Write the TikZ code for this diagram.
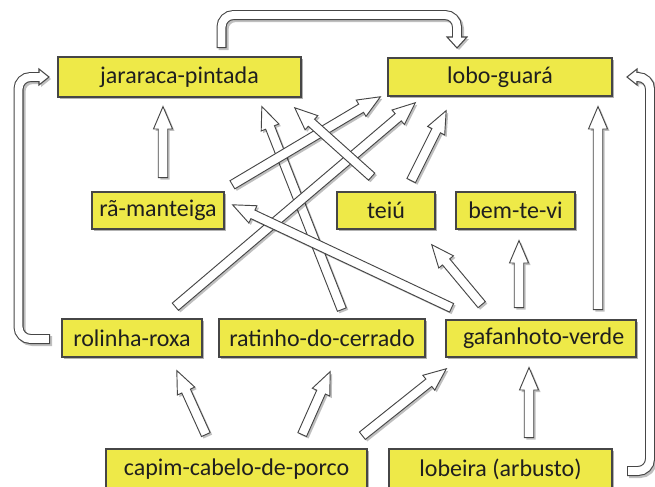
\documentclass[tikz,border=0pt]{standalone}
\usepackage{fontspec}
\setmainfont{Carlito}
\usetikzlibrary{calc,shapes.arrows,shadows}
\definecolor{boxfill}{RGB}{238,233,72}
\definecolor{edge}{RGB}{70,70,70}
\tikzset{
  box/.style={draw=edge, line width=0.8pt, fill=boxfill, inner sep=0pt,
    font=\fontsize{18pt}{20pt}\selectfont, text=black!88,
    drop shadow={shadow xshift=1.8pt, shadow yshift=-1.8pt, fill=black, opacity=0.3}},
  bw/.style={minimum width=#1*0.75pt},
  bh/.style={minimum height=#1*0.75pt},
  sarrow/.style={single arrow, draw=edge, line width=0.7pt, fill=white,
    inner xsep=0pt, inner ysep=3.2pt, single arrow head extend=3.6pt,
    single arrow tip angle=46, single arrow head indent=0pt, minimum width=0pt},
  sarrowshadow/.style={sarrow, draw=none, fill=black, opacity=0.25},
  cborder/.style={line width=7.5pt, draw=edge, rounded corners=9pt},
  cinner/.style={line width=5.9pt, draw=white, rounded corners=9pt},
  chead/.style={fill=white, draw=edge, line width=0.8pt, line join=miter},
  cshadow/.style={line width=7.5pt, draw=black, opacity=0.25, rounded corners=9pt},
  cheadshadow/.style={fill=black, opacity=0.25},
}
\newcommand\blockarrow[2]{%
  \path let \p1=(#1), \p2=(#2),
    \n1={veclen(\x2-\x1,\y2-\y1)}, \n2={atan2(\y2-\y1,\x2-\x1)} in
    node[sarrowshadow, minimum height=\n1, rotate=\n2, anchor=tail] at ([xshift=1.5pt,yshift=-1.5pt]\p1) {}
    node[sarrow, minimum height=\n1, rotate=\n2, anchor=tail] at (\p1) {};}
\begin{document}
\begin{tikzpicture}[x=0.75pt,y=-0.75pt]
\fill[white] (0,0) rectangle (655,486);
\useasboundingbox (0,0) rectangle (655,486);
\clip (0,0) rectangle (655,486);

% boxes
\node[box, bw=243, bh=40] (jar) at (179.5,77) {jararaca-pintada};
\node[box, bw=224, bh=38] (lobo) at (500,77) {lobo-guará};
\node[box, bw=132, bh=37] (ra) at (158,210.5) {rã-manteiga};
\node[box, bw=98, bh=37] (teiu) at (386,210.5) {teiú};
\node[box, bw=119, bh=37] (bem) at (515.5,210.5) {bem-te-vi};
\node[box, bw=140, bh=38] (rol) at (132,338) {rolinha-roxa};
\node[box, bw=206, bh=38] (rat) at (322,338) {ratinho-do-cerrado};
\node[box, bw=190, bh=37] (gaf) at (541,338.5) {\hspace*{4pt}gafanhoto-verde};
\node[box, bw=261, bh=40] (capim) at (236.5,469) {capim-cabelo-de-porco};
\node[box, bw=223, bh=40] (lob) at (500.5,469) {lobeira (arbusto)};

% curved arrow coordinates
\coordinate (t1) at ($(jar)+(42,-29)$);
\coordinate (t2) at ($(lobo)+(-43,-62)$);
\coordinate (t3) at ($(lobo)+(-43,-40)$);
\coordinate (t4) at ($(lobo)+(-43,-29)$);
\coordinate (l1) at ($(rol)+(-82,1)$);
\coordinate (l2) at ($(jar)+(-161,0)$);
\coordinate (l3) at ($(jar)+(-140.5,0)$);
\coordinate (l4) at ($(jar)+(-130.5,0)$);
\coordinate (r1) at ($(lob)+(126.5,2)$);
\coordinate (r2) at ($(lobo)+(150,0)$);
\coordinate (r3) at ($(lobo)+(137,0)$);
\coordinate (r4) at ($(lobo)+(127,0)$);

% shadows of curved arrows
\begin{scope}[transform canvas={xshift=1.5pt,yshift=-1.5pt}]
  \draw[cshadow] (t1) |- (t2) -- (t3);
  \fill[cheadshadow] ($(t3)+(-10,0)$) -- (t4) -- ($(t3)+(10,0)$) -- cycle;
  \draw[cshadow] (l1) -| (l2) -- (l3);
  \fill[cheadshadow] ($(l3)+(0,-8)$) -- (l4) -- ($(l3)+(0,8)$) -- cycle;
  \draw[cshadow] (r1) -| (r2) -- (r3);
  \fill[cheadshadow] ($(r3)+(0,-8)$) -- (r4) -- ($(r3)+(0,8)$) -- cycle;
\end{scope}

% jararaca -> lobo (top)
\draw[cborder] (t1) |- (t2) -- (t3);
\draw[chead] ($(t3)+(-10,0)$) -- (t4) -- ($(t3)+(10,0)$) -- cycle;
\draw[cinner, shorten <=0.8pt] (t1) |- (t2) -- ($(t3)+(0,2)$);
% rolinha -> jararaca (left)
\draw[cborder] (l1) -| (l2) -- (l3);
\draw[chead] ($(l3)+(0,-8)$) -- (l4) -- ($(l3)+(0,8)$) -- cycle;
\draw[cinner, shorten <=0.8pt] (l1) -| (l2) -- ($(l3)+(2,0)$);
% lobeira -> lobo (right)
\draw[cborder] (r1) -| (r2) -- (r3);
\draw[chead] ($(r3)+(0,-8)$) -- (r4) -- ($(r3)+(0,8)$) -- cycle;
\draw[cinner, shorten <=0.8pt] (r1) -| (r2) -- ($(r3)+(-2,0)$);

% straight arrows
\blockarrow{$(ra)+(5,-32.5)$}{$(jar)+(-16.5,30)$}
\blockarrow{$(gaf)+(57,-28.5)$}{$(lobo)+(98,30)$}
\blockarrow{$(gaf)+(-22,-30.5)$}{$(bem)+(3.5,30.5)$}
\blockarrow{$(lob)+(28.5,-31)$}{$(gaf)+(-12,29.5)$}
\blockarrow{$(gaf)+(-59,-33.5)$}{$(teiu)+(46,34.5)$}
\blockarrow{$(capim)+(-30.5,-34)$}{$(rol)+(45,33)$}
\blockarrow{$(capim)+(65.5,-34)$}{$(rat)+(8,34)$}
\blockarrow{$(capim)+(125.5,-33)$}{$(gaf)+(-95,30.5)$}
\blockarrow{$(rat)+(20,-28)$}{$(jar)+(82.5,30)$}
\blockarrow{$(rol)+(43,-31)$}{$(lobo)+(-85,26)$}
\blockarrow{$(gaf)+(-89,-30.5)$}{$(ra)+(75,-5.5)$}
\blockarrow{$(ra)+(74,-25.5)$}{$(lobo)+(-120,20)$}
\blockarrow{$(teiu)+(-14,-33.5)$}{$(jar)+(115.5,31)$}
\blockarrow{$(teiu)+(25,-29.5)$}{$(lobo)+(-54,34)$}
\end{tikzpicture}
\end{document}
